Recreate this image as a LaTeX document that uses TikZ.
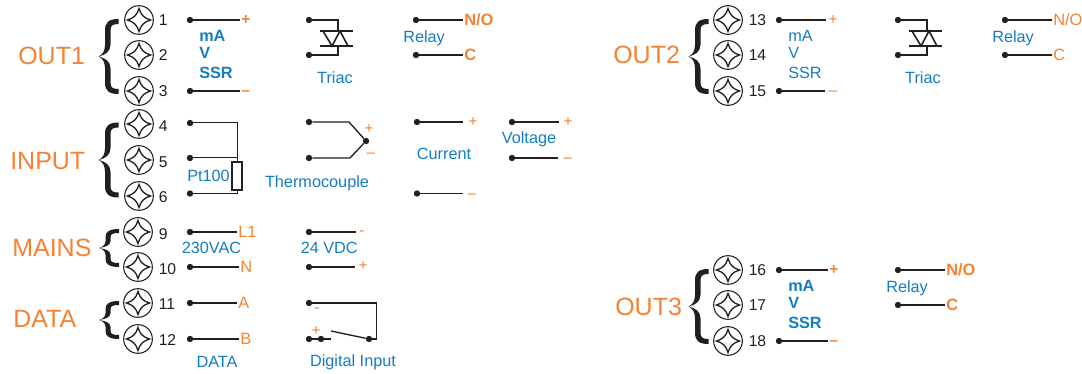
\documentclass[tikz,border=0pt]{standalone}
\usepackage{fontspec}
\setmainfont{Liberation Sans}
\definecolor{wireblack}{RGB}{35,31,32}
\definecolor{tagorange}{RGB}{245,130,50}
\definecolor{labelblue}{RGB}{20,125,195}
\tikzset{
  screwhead/.style={circle,draw=wireblack,line width=0.8pt,minimum size=21.5pt,inner sep=0pt,
    path picture={\draw[wireblack,line width=1pt,shift={(path picture bounding box.center)}]
      (-11.5,0) .. controls (-5,-2) and (-2,-5) .. (0,-11.5) .. controls (2,-5) and (5,-2) .. (11.5,0)
      .. controls (5,2) and (2,5) .. (0,11.5) .. controls (-2,5) and (-5,2) .. (-11.5,0) -- cycle;}},
  termnum/.style={anchor=west,inner sep=0.75pt,text=wireblack,font=\fontsize{11.75}{13}\selectfont},
  wiredot/.style={circle,fill=wireblack,minimum size=4.8pt,inner sep=0pt},
  wire/.style={draw=wireblack,line width=1pt},
  heavywire/.style={draw=wireblack,line width=1.35pt},
  grouptag/.style={anchor=west,inner sep=0pt,text=tagorange,font=\fontsize{18.75}{22}\selectfont},
  endtag/.style={anchor=west,inner sep=0.75pt,text=tagorange,font=\fontsize{12.3}{14}\selectfont},
  signtag/.style={inner sep=0.75pt,text=tagorange,text height=7pt,text depth=0pt,font=\fontsize{11.5}{14}\selectfont},
  boldsign/.style={signtag,anchor=west,font=\bfseries\fontsize{11.5}{14}\selectfont},
  boldend/.style={endtag,font=\bfseries\fontsize{12.3}{14}\selectfont},
  bluetext/.style={inner sep=0pt,text=labelblue,font=\fontsize{12.2}{14}\selectfont},
  bluebold/.style={anchor=west,inner sep=0pt,text=labelblue,font=\bfseries\fontsize{12.2}{14}\selectfont},
  wirebrace/.pic={
    \fill[wireblack] (0,0) .. controls (4.5,-2) and (6.5,-6) .. (6.5,-12) -- (6.5,-26)
      .. controls (6.5,-34) and (10,-37.5) .. (20,-37.5) -- (20,-32.5)
      .. controls (14,-32.5) and (12,-31) .. (12,-26) -- (12,-12)
      .. controls (12,-5) and (7,-1.5) .. (0,0)
      .. controls (7,1.5) and (12,5) .. (12,12) -- (12,26)
      .. controls (12,31) and (14,32.5) .. (20,32.5) -- (20,37.5)
      .. controls (10,37.5) and (6.5,34) .. (6.5,26) -- (6.5,12)
      .. controls (6.5,6) and (4.5,2) .. (0,0) -- cycle;
  },
  shortbrace/.pic={
    \fill[wireblack] (0,0) .. controls (4.5,-1.5) and (6.5,-3.5) .. (6.5,-7) -- (6.5,-11)
      .. controls (6.5,-16) and (10,-19) .. (20,-19) -- (20,-15)
      .. controls (14,-15) and (11.5,-14) .. (11.5,-11) -- (11.5,-7)
      .. controls (11.5,-3) and (7,-1) .. (0,0)
      .. controls (7,1) and (11.5,3) .. (11.5,7) -- (11.5,11)
      .. controls (11.5,14) and (14,15) .. (20,15) -- (20,19)
      .. controls (10,19) and (6.5,16) .. (6.5,11) -- (6.5,7)
      .. controls (6.5,3.5) and (4.5,1.5) .. (0,0) -- cycle;
  }
}
\begin{document}
\begin{tikzpicture}[x=0.75pt,y=0.75pt,yscale=-1,xscale=1]
	\useasboundingbox (0,0) rectangle (1082,374);

	\draw (18,56) node (out1tag) [grouptag] {OUT1};
	\draw (10,161) node (inputtag) [grouptag] {INPUT};
	\draw (12,248) node (mainstag) [grouptag] {MAINS};
	\draw (13,319) node (datatag) [grouptag] {DATA};
	\draw (613,55) node (out2tag) [grouptag] {OUT2};
	\draw (615,307) node (out3tag) [grouptag] {OUT3};

	\pic at (98.5,56.5) {wirebrace};
	\pic at (98.5,160) {wirebrace};
	\pic at (99,248) {shortbrace};
	\pic at (99,320) {shortbrace};
	\pic at (688.5,56.5) {wirebrace};
	\pic at (688.5,306.5) {wirebrace};

	\draw (139,20) node (t1) [screwhead] {};
	\draw (139,55) node (t2) [screwhead] {};
	\draw (139,91) node (t3) [screwhead] {};
	\draw (139,124) node (t4) [screwhead] {};
	\draw (139,160) node (t5) [screwhead] {};
	\draw (139,196) node (t6) [screwhead] {};
	\draw (138,232) node (t9) [screwhead] {};
	\draw (138,267) node (t10) [screwhead] {};
	\draw (138,303) node (t11) [screwhead] {};
	\draw (138,339) node (t12) [screwhead] {};
	\draw (728,20) node (t13) [screwhead] {};
	\draw (728,55) node (t14) [screwhead] {};
	\draw (728,91) node (t15) [screwhead] {};
	\draw (728,270) node (t16) [screwhead] {};
	\draw (728,305) node (t17) [screwhead] {};
	\draw (728,341) node (t18) [screwhead] {};

	\draw (157.5,20) node (n1) [termnum] {1};
	\draw (157.5,55) node (n2) [termnum] {2};
	\draw (157.5,91) node (n3) [termnum] {3};
	\draw (157.5,126) node (n4) [termnum] {4};
	\draw (157.5,162) node (n5) [termnum] {5};
	\draw (157.5,197) node (n6) [termnum] {6};
	\draw (157.5,234) node (n9) [termnum] {9};
	\draw (157.5,269) node (n10) [termnum] {10};
	\draw (157.5,304) node (n11) [termnum] {11};
	\draw (157.5,340) node (n12) [termnum] {12};
	\draw (747.5,20) node (n13) [termnum] {13};
	\draw (747.5,55) node (n14) [termnum] {14};
	\draw (747.5,91) node (n15) [termnum] {15};
	\draw (747.5,270) node (n16) [termnum] {16};
	\draw (747.5,305) node (n17) [termnum] {17};
	\draw (747.5,341) node (n18) [termnum] {18};

	\draw (190,20) node (o1a) [wiredot] {};
	\draw (190,91) node (o1b) [wiredot] {};
	\draw (240,20) node (o1plus) [boldsign] {+};
	\draw (240,91) node (o1minus) [boldsign] {–};
	\draw [wire] (o1a) -- (o1plus.west);
	\draw [wire] (o1b) -- (o1minus.west);
	\draw (199,36) node (o1ma) [bluebold] {mA};
	\draw (199,53) node (o1v) [bluebold] {V};
	\draw (199,73) node (o1ssr) [bluebold] {SSR};

	\draw (309,20) node (o1ta) [wiredot] {};
	\draw (309,55) node (o1tb) [wiredot] {};
	\coordinate (o1tu) at (338,31);
	\coordinate (o1tl) at (338,46);
	\draw [wire] (o1ta) -| (o1tu);
	\draw [wire] (o1tb) -| (o1tl);
	\draw [wire] (320,31) -- (353,31);
	\draw [wire] (320,46) -- (353,46);
	\draw [wire,line width=1.2pt] (323,31) -- (332,46) -- (340,31) -- (348,46) -- (331,46);
	\draw (335,78) node (o1triac) [bluetext] {Triac};

	\draw (416,20) node (o1ra) [wiredot] {};
	\draw (416,55) node (o1rb) [wiredot] {};
	\draw (463,20) node (o1no) [boldend] {N/O};
	\draw (463,55) node (o1c) [boldend] {C};
	\draw [wire] (o1ra) -- (o1no.west);
	\draw [wire] (o1rb) -- (o1c.west);
	\draw (403,38) node (o1relay) [bluetext,anchor=west] {Relay};

	\draw (190,123) node (pa) [wiredot] {};
	\draw (190,158) node (pb) [wiredot] {};
	\draw (190,193.5) node (pc) [wiredot] {};
	\draw (237,176) node (ptres) [draw=wireblack,line width=0.8pt,minimum width=7.5pt,minimum height=21pt,inner sep=0pt] {};
	\coordinate (pj) at (237,158);
	\draw [wire,line width=0.75pt] (pa) -| (ptres.north);
	\draw [wire,line width=0.75pt] (pb) -- (pj);
	\draw [wire,line width=0.75pt] (pc) -| (ptres.south);
	\draw (187,176) node (ptlabel) [bluetext,anchor=west] {Pt100};

	\draw (309,122) node (tca) [wiredot] {};
	\draw (309,158) node (tcb) [wiredot] {};
	\draw (366,141) node (tcj) [wiredot] {};
	\draw [wire] (tca) -- (349,122) -- (tcj);
	\draw [wire] (tcb) -- (350,158) -- (tcj);
	\draw (369,129) node (tcplus) [signtag] {+};
	\draw (371,153) node (tcminus) [signtag] {–};
	\draw (317,183.5) node (tclabel) [bluetext] {Thermocouple};

	\draw (417,122) node (ca) [wiredot] {};
	\draw (417,193.5) node (cb) [wiredot] {};
	\draw (473,122) node (cplus) [signtag] {+};
	\draw (472,193.5) node (cminus) [signtag] {–};
	\coordinate (cae) at (463,122);
	\coordinate (cbe) at (463,193.5);
	\draw [wire] (ca) -- (cae);
	\draw [wire] (cb) -- (cbe);
	\draw (444,153.5) node (clabel) [bluetext] {Current};

	\draw (512,122) node (va) [wiredot] {};
	\draw (512,158) node (vb) [wiredot] {};
	\draw (568,122) node (vplus) [signtag] {+};
	\draw (568,158) node (vminus) [signtag] {–};
	\coordinate (vae) at (559,122);
	\coordinate (vbe) at (558,158);
	\draw [wire] (va) -- (vae);
	\draw [wire] (vb) -- (vbe);
	\draw (529,139.5) node (vlabel) [bluetext] {Voltage};

	\draw (190,232) node (ma) [wiredot] {};
	\draw (190,267) node (mb) [wiredot] {};
	\draw (237,232) node (ml1) [endtag] {L1};
	\draw (239,267) node (mn) [endtag] {N};
	\draw [wire] (ma) -- (ml1.west);
	\draw [wire] (mb) -- (mn.west);
	\draw (181.5,248) node (macl) [bluetext,anchor=west] {230VAC};

	\draw (309,232) node (da) [wiredot] {};
	\draw (309,267) node (db) [wiredot] {};
	\draw (362,231) node (dminus) [signtag] {-};
	\draw (363,266) node (dplus) [signtag] {+};
	\coordinate (dae) at (356,232);
	\coordinate (dbe) at (355,267);
	\draw [wire] (da) -- (dae);
	\draw [wire] (db) -- (dbe);
	\draw (300.5,248) node (dcl) [bluetext,anchor=west] {24 VDC};

	\draw (190,303) node (sa) [wiredot] {};
	\draw (190,339) node (sb) [wiredot] {};
	\draw (237,303) node (sat) [endtag] {A};
	\draw (239,339) node (sbt) [endtag] {B};
	\draw [wire] (sa) -- (sat.west);
	\draw [wire] (sb) -- (sbt.west);
	\draw (217,361.5) node (slabel) [bluetext] {DATA};

	\draw (309,303) node (dia) [wiredot] {};
	\draw (309,339) node (dib) [wiredot] {};
	\draw (321,339) node (dic) [wiredot] {};
	\draw (369,339) node (did) [wiredot] {};
	\coordinate (diopen) at (331,339);
	\coordinate (diarm) at (331,331);
	\coordinate (dicorner) at (376.5,303);
	\draw [wire] (dia) -- (dicorner) -- (376.5,339) -- (did);
	\draw [wire] (dib) -- (dic) -- (diopen);
	\draw [wire] (diarm) -- (did);
	\draw (317,308) node (diminus) [signtag] {-};
	\draw (316,331) node (diplus) [signtag] {+};
	\draw (353,362.5) node (dilabel) [bluetext] {Digital Input};

	\draw (779,20) node (o2a) [wiredot] {};
	\draw (779,91) node (o2b) [wiredot] {};
	\draw (833,20) node (o2plus) [signtag] {+};
	\draw (833,91) node (o2minus) [signtag] {–};
	\coordinate (o2ae) at (826,20);
	\coordinate (o2be) at (825,91);
	\draw [wire] (o2a) -- (o2ae);
	\draw [wire] (o2b) -- (o2be);
	\draw (788,36) node (o2ma) [bluetext,anchor=west] {mA};
	\draw (788,53) node (o2v) [bluetext,anchor=west] {V};
	\draw (788,73) node (o2ssr) [bluetext,anchor=west] {SSR};

	\draw (898,20) node (o2ta) [wiredot] {};
	\draw (898,55) node (o2tb) [wiredot] {};
	\coordinate (o2tu) at (927,31);
	\coordinate (o2tl) at (927,46);
	\draw [wire] (o2ta) -| (o2tu);
	\draw [wire] (o2tb) -| (o2tl);
	\draw [wire] (909,31) -- (942,31);
	\draw [wire] (909,46) -- (942,46);
	\draw [wire,line width=1.2pt] (912,31) -- (921,46) -- (929,31) -- (937,46) -- (920,46);
	\draw (923,78) node (o2triac) [bluetext] {Triac};

	\draw (1005,20) node (o2ra) [wiredot] {};
	\draw (1005,55) node (o2rb) [wiredot] {};
	\draw (1052,20) node (o2no) [endtag] {N/O};
	\draw (1052,55) node (o2c) [endtag] {C};
	\draw [wire] (o2ra) -- (o2no.west);
	\draw [wire] (o2rb) -- (o2c.west);
	\draw (992,38) node (o2relay) [bluetext,anchor=west] {Relay};

	\draw (779,270) node (o3a) [wiredot] {};
	\draw (779,341) node (o3b) [wiredot] {};
	\draw (828,270) node (o3plus) [boldsign] {+};
	\draw (828,341) node (o3minus) [boldsign] {–};
	\draw [heavywire] (o3a) -- (o3plus.west);
	\draw [heavywire] (o3b) -- (o3minus.west);
	\draw (788,286) node (o3ma) [bluebold] {mA};
	\draw (788,303) node (o3v) [bluebold] {V};
	\draw (788,323) node (o3ssr) [bluebold] {SSR};

	\draw (898,270) node (o3ra) [wiredot] {};
	\draw (898,305) node (o3rb) [wiredot] {};
	\draw (945,270) node (o3no) [boldend] {N/O};
	\draw (945,305) node (o3c) [boldend] {C};
	\draw [wire] (o3ra) -- (o3no.west);
	\draw [wire] (o3rb) -- (o3c.west);
	\draw (886,288) node (o3relay) [bluetext,anchor=west] {Relay};
	\end{tikzpicture}
\end{document}
